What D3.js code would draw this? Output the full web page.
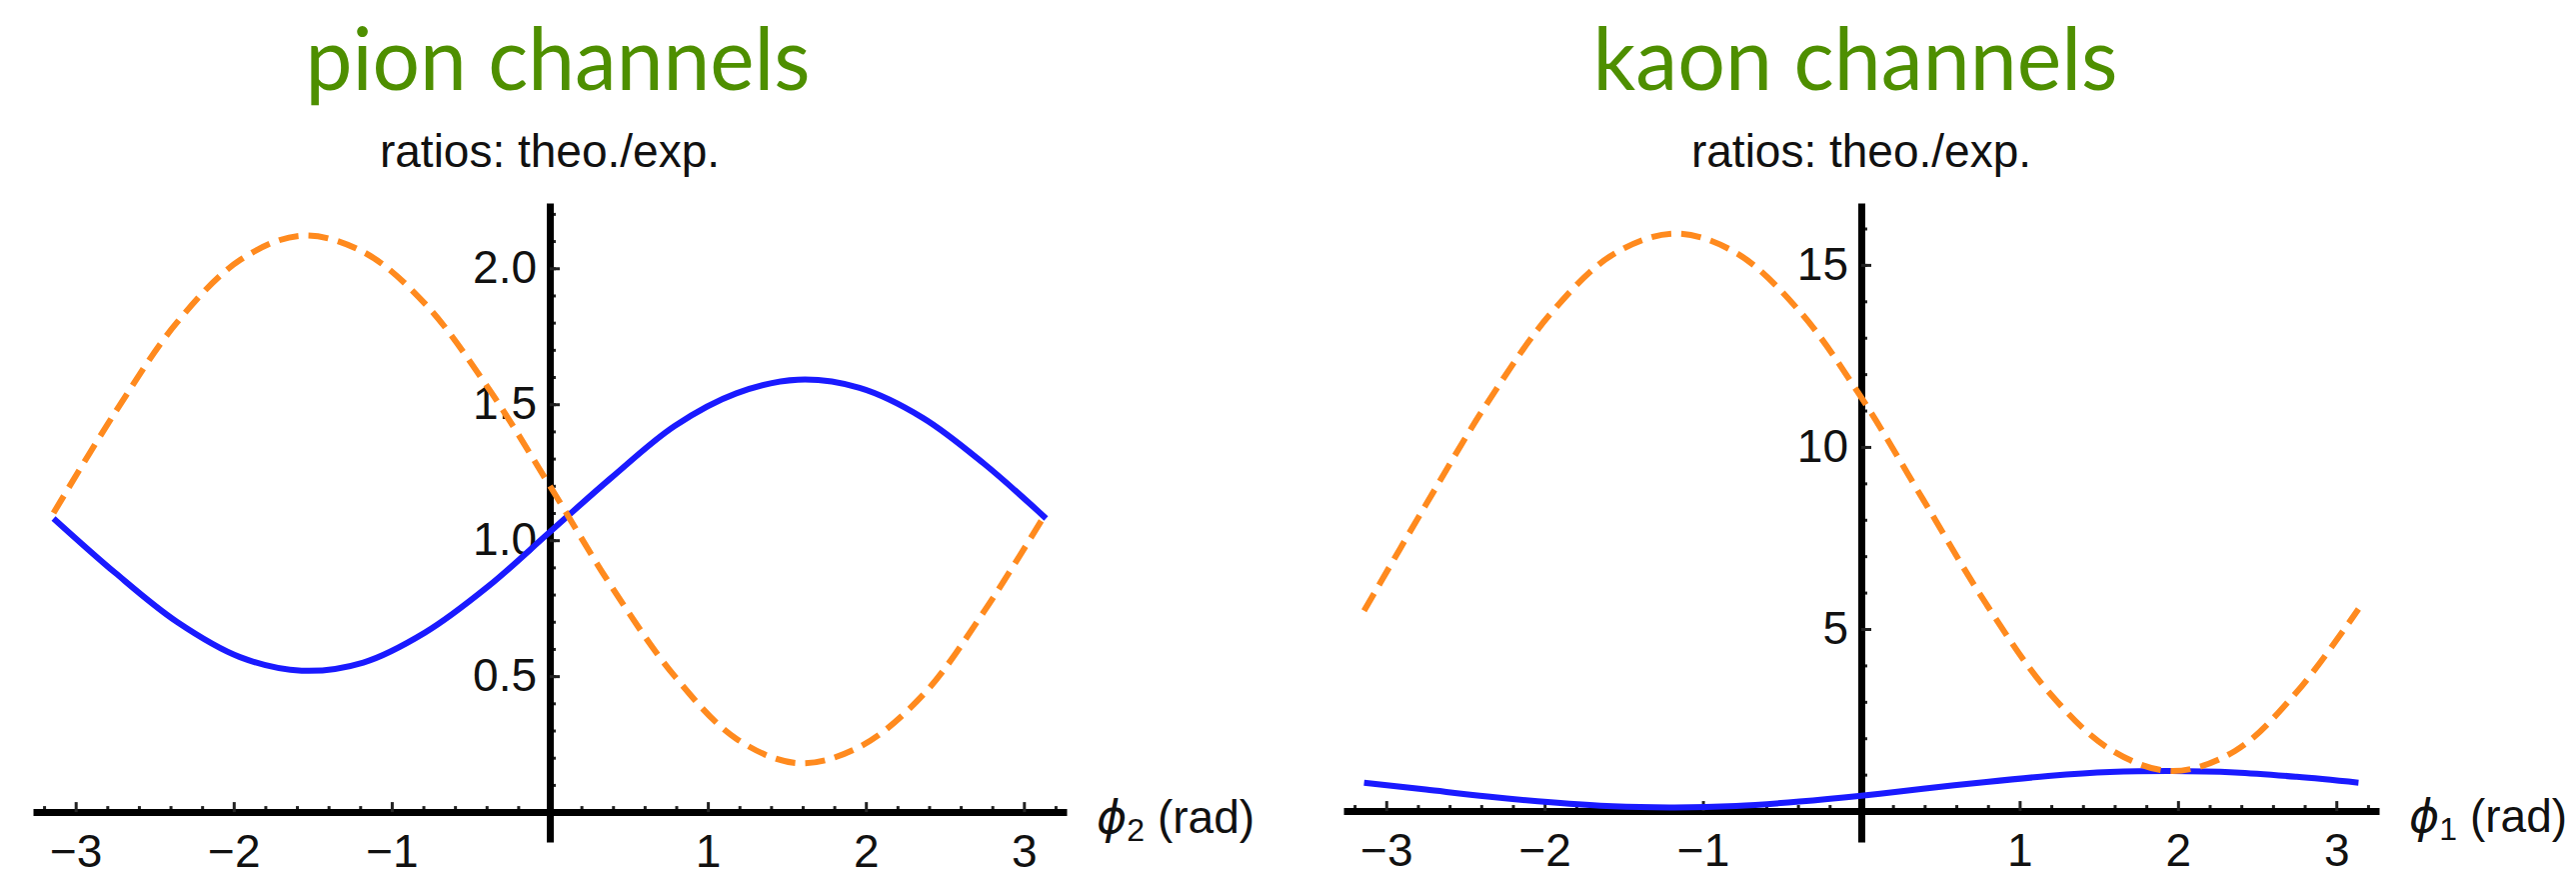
<!DOCTYPE html>
<html>
<head>
<meta charset="utf-8">
<script src="https://cdn.jsdelivr.net/npm/d3@7"></script>
<style>
body { margin: 0; background: #fff; }
</style>
</head>
<body>
<div id="chart"></div>
<script>
// phase grid (rad) the curves were read at
var phi = [-3.14, -2.75, -2.36, -1.96, -1.57, -1.18, -0.79, -0.39, 0, 0.39, 0.79, 1.18, 1.57, 1.96, 2.36, 2.75, 3.14];

// pion channels, ratios theo./exp.
var pionSolid  = [1.08, 0.88, 0.70, 0.57, 0.52, 0.55, 0.66, 0.83, 1.03, 1.23, 1.42, 1.54, 1.59, 1.56, 1.45, 1.28, 1.08];
var pionDashed = [1.10, 1.47, 1.80, 2.03, 2.12, 2.06, 1.87, 1.56, 1.20, 0.83, 0.50, 0.27, 0.18, 0.24, 0.43, 0.74, 1.10];

// kaon channels, ratios theo./exp.
var kaonSolid  = [0.78, 0.59, 0.40, 0.24, 0.13, 0.10, 0.14, 0.26, 0.42, 0.61, 0.80, 0.96, 1.07, 1.10, 1.06, 0.94, 0.78];
var kaonDashed = [5.5, 8.41, 11.22, 13.67, 15.28, 15.86, 15.33, 13.73, 11.36, 8.56, 5.68, 3.29, 1.70, 1.10, 1.65, 3.27, 5.55];

var phiTicks = [-3, -2, -1, 1, 2, 3];
var pionTicks = [0.5, 1.0, 1.5, 2.0];
var kaonTicks = [5, 10, 15];

var width = 2577, height = 877;
var blue = "#1a1aff", orange = "#ff8a1e", green = "#4e8f00";
var tickFont = "'Liberation Sans', Arial, Helvetica, sans-serif";

var svg = d3.select("#chart").append("svg")
    .attr("width", width)
    .attr("height", height)
    .style("background", "#fff");

var drawPanel = function(p) {
    var x = d3.scaleLinear().domain([-3.27, 3.27]).range(p.xRange);
    var y = d3.scaleLinear().domain(p.yDomain).range([842, 203]);
    var g = svg.append("g");

    // title + y label
    g.append("text")
        .attr("x", p.titleX).attr("y", 90)
        .attr("text-anchor", "middle")
        .attr("font-family", "Lato, 'Open Sans', sans-serif")
        .attr("font-size", 88)
        .attr("fill", green)
        .attr("textLength", p.titleLen)
        .attr("lengthAdjust", "spacingAndGlyphs")
        .text(p.title);

    g.append("text")
        .attr("x", x(0)).attr("y", 167)
        .attr("text-anchor", "middle")
        .attr("font-family", tickFont)
        .attr("font-size", 46)
        .attr("fill", "#111")
        .text("ratios: theo./exp.");

    // minor ticks
    var xMinor = d3.range(-3.2, 3.21, 0.2).filter(function(v) { return Math.abs(v - Math.round(v)) > 0.01; });
    g.append("g")
        .attr("transform", "translate(0," + y(0) + ")")
        .call(d3.axisBottom(x).tickValues(xMinor).tickSizeInner(-6).tickSizeOuter(0).tickFormat(""))
        .call(function(a) { a.select(".domain").remove(); })
        .selectAll("line").attr("stroke", "#222").attr("stroke-width", 3);

    var yMinor = d3.range(p.yMinorStep, p.yDomain[1], p.yMinorStep);
    g.append("g")
        .attr("transform", "translate(" + x(0) + ",0)")
        .call(d3.axisLeft(y).tickValues(yMinor).tickSizeInner(-6).tickSizeOuter(0).tickFormat(""))
        .call(function(a) { a.select(".domain").remove(); })
        .selectAll("line").attr("stroke", "#222").attr("stroke-width", 3);

    // main axes
    var xAxis = g.append("g")
        .attr("transform", "translate(0," + y(0) + ")")
        .call(d3.axisBottom(x).tickValues(phiTicks).tickSizeInner(-10).tickSizeOuter(0).tickPadding(22).tickFormat(d3.format("d")));
    var yAxis = g.append("g")
        .attr("transform", "translate(" + x(0) + ",0)")
        .call(d3.axisLeft(y).tickValues(p.yTicks).tickSizeInner(-10).tickSizeOuter(0).tickPadding(13).tickFormat(p.fmt));

    [xAxis, yAxis].forEach(function(a) {
        a.attr("font-family", tickFont).attr("font-size", 46);
        a.select(".domain").attr("stroke", "#000").attr("stroke-width", 7);
        a.selectAll(".tick line").attr("stroke", "#222").attr("stroke-width", 3);
        a.selectAll(".tick text").attr("fill", "#111");
    });

    // axis label
    var lab = g.append("text")
        .attr("x", p.xRange[1] + 30).attr("y", y(0) + 21)
        .attr("font-family", tickFont)
        .attr("font-size", 46)
        .attr("fill", "#111");
    lab.append("tspan").attr("font-family", "'DejaVu Sans', sans-serif").attr("font-style", "italic").text("\u03d5");
    lab.append("tspan").attr("font-size", 32).attr("dy", 8).text(p.sub);
    lab.append("tspan").attr("dy", -8).text(p.gap + "(rad)");

    // curves
    var line = d3.line()
        .x(function(d, i) { return x(phi[i]); })
        .y(function(d) { return y(d); })
        .curve(d3.curveCatmullRom.alpha(0.5));

    g.append("path").datum(p.solid)
        .attr("d", line)
        .attr("fill", "none")
        .attr("stroke", blue)
        .attr("stroke-width", 6);

    g.append("path").datum(p.dashed)
        .attr("d", line)
        .attr("fill", "none")
        .attr("stroke", orange)
        .attr("stroke-width", 6)
        .attr("stroke-dasharray", "20 10");
};

drawPanel({
    title: "pion channels", titleX: 558, titleLen: 505,
    xRange: [33, 1067], yDomain: [-0.11, 2.24], yMinorStep: 0.1,
    yTicks: pionTicks, fmt: d3.format(".1f"),
    solid: pionSolid, dashed: pionDashed, sub: "2", gap: " "
});

drawPanel({
    title: "kaon channels", titleX: 1856, titleLen: 525,
    xRange: [1344, 2380], yDomain: [-0.85, 16.7], yMinorStep: 1,
    yTicks: kaonTicks, fmt: d3.format("d"),
    solid: kaonSolid, dashed: kaonDashed, sub: "1", gap: "  "
});
</script>
</body>
</html>
